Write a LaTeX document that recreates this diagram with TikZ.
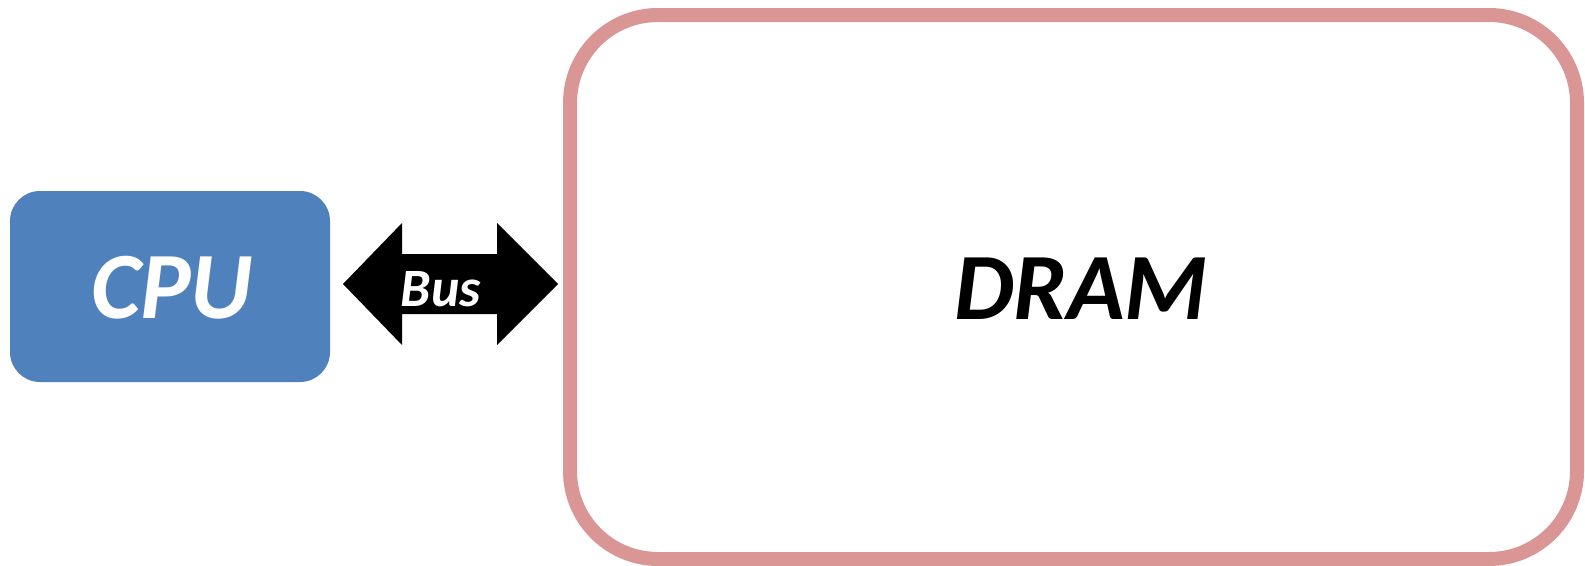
\documentclass[tikz,border=0pt]{standalone}
\usepackage{fontspec}
\setmainfont{Carlito}
\definecolor{cpublue}{HTML}{4F81BD}
\definecolor{drampink}{HTML}{D99694}
\begin{document}
\begin{tikzpicture}[x=1pt,y=-1pt,
  lbl/.style={font=\bfseries\itshape\fontsize{95}{95}\selectfont, inner sep=0pt, anchor=base},
  cpubox/.style={fill=cpublue, rounded corners=30pt, inner sep=0pt},
  drambox/.style={draw=drampink, line width=14pt, rounded corners=88pt, inner sep=0pt}]
\useasboundingbox (0,0) rectangle (1585,565);
\fill[white] (0,0) rectangle (1585,565);
% CPU
\path[cpubox] (10,191) rectangle (330,382);
\node[lbl, text=white] (cpu) at (172,318) {CPU};
% DRAM
\path[drambox] (570,15) rectangle (1577,559);
\node[lbl] (dram) at (1081,319) {DRAM};
% Bus arrow
\fill[black] (343,284) -- (402,223) -- (402,254) -- (497,254) -- (497,223) -- (558,284)
  -- (497,345) -- (497,314) -- (402,314) -- (402,345) -- cycle;
\node[lbl, text=white, font=\bfseries\itshape\fontsize{54}{54}\selectfont] (bus) at (441,306) {Bus};
\end{tikzpicture}
\end{document}
